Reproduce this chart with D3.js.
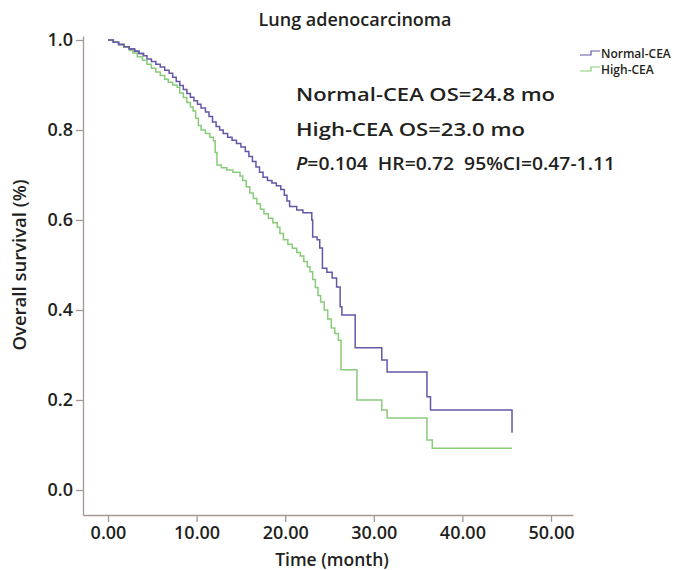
<!DOCTYPE html>
<html>
<head>
<meta charset="utf-8">
<script src="https://cdn.jsdelivr.net/npm/d3@7"></script>
<style>
  body { margin: 0; background: #fff; }
  text { font-family: "Open Sans", sans-serif; fill: #231f20; }
</style>
</head>
<body>
<svg id="chart" width="679" height="570"></svg>
<script>
// step points: [month, survival]
var normalCEA = [[0,1.0],[0.6,0.995],[1.2,0.99],[1.8,0.985],[2.4,0.98],[3.0,0.975],[3.5,0.97],[4.0,0.965],[4.4,0.958],[4.9,0.952],[5.4,0.946],[5.9,0.94],[6.4,0.933],[6.9,0.926],[7.3,0.917],[7.7,0.908],[8.1,0.899],[8.5,0.89],[8.9,0.881],[9.3,0.873],[9.7,0.865],[10.1,0.857],[10.5,0.849],[11.0,0.84],[11.4,0.83],[11.8,0.818],[12.2,0.808],[12.6,0.80],[13.0,0.792],[13.5,0.784],[14.0,0.777],[14.5,0.77],[15.0,0.762],[15.5,0.752],[15.9,0.741],[16.3,0.73],[16.7,0.718],[17.1,0.706],[17.5,0.695],[18.0,0.688],[18.5,0.682],[19.0,0.676],[19.5,0.668],[19.9,0.655],[20.2,0.642],[20.5,0.63],[21.3,0.622],[22.0,0.616],[23.0,0.60],[23.1,0.562],[23.6,0.556],[23.9,0.538],[24.2,0.493],[24.7,0.484],[25.3,0.471],[25.8,0.451],[26.2,0.407],[26.4,0.389],[27.9,0.316],[30.9,0.289],[31.5,0.262],[36.0,0.207],[36.4,0.178],[45.6,0.127]];
var highCEA = [[0,1.0],[0.6,0.995],[1.2,0.99],[1.8,0.984],[2.4,0.977],[2.8,0.971],[3.3,0.963],[3.9,0.955],[4.4,0.946],[4.9,0.937],[5.4,0.929],[5.9,0.921],[6.4,0.913],[6.8,0.906],[7.3,0.9],[7.8,0.895],[8.1,0.882],[8.5,0.872],[8.9,0.861],[9.3,0.851],[9.6,0.842],[9.9,0.826],[10.2,0.81],[10.5,0.80],[11.0,0.792],[11.5,0.784],[11.9,0.776],[12.1,0.75],[12.3,0.722],[12.8,0.716],[13.4,0.711],[14.1,0.706],[14.9,0.698],[15.2,0.688],[15.6,0.674],[16.0,0.66],[16.4,0.648],[16.8,0.636],[17.2,0.624],[17.6,0.614],[18.1,0.604],[18.6,0.594],[19.1,0.584],[19.4,0.57],[19.8,0.556],[20.3,0.546],[20.8,0.537],[21.3,0.528],[21.7,0.52],[22.1,0.508],[22.5,0.496],[22.8,0.485],[23.1,0.468],[23.4,0.45],[23.7,0.432],[24.0,0.418],[24.4,0.4],[24.8,0.38],[25.2,0.36],[25.6,0.348],[26.0,0.333],[26.3,0.267],[28.1,0.20],[30.9,0.178],[31.5,0.16],[36.0,0.111],[36.6,0.093],[45.6,0.093]];

var xTicks = [0, 10, 20, 30, 40, 50];
var yTicks = [0, 0.2, 0.4, 0.6, 0.8, 1.0];
var seriesNames = ["Normal-CEA", "High-CEA"];
var seriesColors = ["#6556a8", "#88cc7a"];
var statLines = ["Normal-CEA OS=24.8 mo", "High-CEA OS=23.0 mo"];

var svg = d3.select("#chart");

// scales: 0 month at x=108, 50 at x=551; survival 0 at y=490, 1 at y=40
var xScale = d3.scaleLinear().domain([-25 / 8.86, 465 / 8.86]).range([83, 573]);
var yScale = d3.scaleLinear().domain([-25 / 450, 1 + 4 / 450]).range([515, 36]);

var axisColor = "#a39893";

var xAxis = d3.axisBottom(xScale).tickValues(xTicks).tickSize(7).tickSizeOuter(0).tickPadding(4)
    .tickFormat(d3.format(".2f"));
var yAxis = d3.axisLeft(yScale).tickValues(yTicks).tickSize(7).tickSizeOuter(0).tickPadding(3)
    .tickFormat(d3.format(".1f"));

var gx = svg.append("g").attr("transform", "translate(0,515)").call(xAxis);
var gy = svg.append("g").attr("transform", "translate(83,0)").call(yAxis);
[gx, gy].forEach(function(g){
  g.select(".domain").attr("stroke", axisColor).attr("stroke-width", 1.3);
  g.selectAll(".tick line").attr("stroke", axisColor).attr("stroke-width", 1.3);
  g.selectAll(".tick text").style("font-family", "'Open Sans', sans-serif")
    .style("font-size", "18px").style("font-weight", 600).attr("fill", "#231f20");
});

// KM step curves
var line = d3.line().curve(d3.curveStepAfter)
    .x(function(d){ return xScale(d[0]); })
    .y(function(d){ return yScale(d[1]); });
[normalCEA, highCEA].forEach(function(data, i){
  svg.append("path").attr("d", line(data)).attr("fill", "none")
    .attr("stroke", seriesColors[i]).attr("stroke-width", 1.5);
});
// redraw normal on top at the start where they overlap
svg.append("path").attr("d", line(normalCEA.slice(0, 8))).attr("fill", "none")
  .attr("stroke", seriesColors[0]).attr("stroke-width", 1.5);

// title
svg.append("text").attr("x", 355).attr("y", 26).attr("text-anchor", "middle")
  .style("font-size", "18px").style("font-weight", 600).text("Lung adenocarcinoma");

// stats
var statWidths = [259, 229];
statLines.forEach(function(s, i){
  svg.append("text").attr("x", 296).attr("y", 101 + i * 35)
    .attr("textLength", statWidths[i]).attr("lengthAdjust", "spacingAndGlyphs")
    .style("font-size", "18px").style("font-weight", 600).text(s);
});
var pt = svg.append("text").attr("x", 296).attr("y", 170)
  .attr("textLength", 319).attr("lengthAdjust", "spacingAndGlyphs")
  .style("font-size", "18.5px").style("font-weight", 600).attr("xml:space", "preserve");
pt.append("tspan").style("font-style", "italic").text("P");
pt.append("tspan").text("=0.104  HR=0.72  95%CI=0.47-1.11");

// legend
seriesNames.forEach(function(name, i){
  var y0 = 55 + i * 16;
  svg.append("path")
    .attr("d", "M580," + y0 + "H591V" + (y0 - 4) + "H600")
    .attr("fill", "none").attr("stroke", seriesColors[i]).attr("stroke-width", 1.2);
  svg.append("text").attr("x", 601).attr("y", y0 + 3)
    .style("font-size", "12px").style("font-weight", 600).text(name);
});

// axis titles
svg.append("text").attr("x", 332).attr("y", 566).attr("text-anchor", "middle")
  .style("font-size", "17.5px").style("font-weight", 600).text("Time (month)");
svg.append("text").attr("transform", "translate(26,265) rotate(-90)").attr("text-anchor", "middle")
  .style("font-size", "18.5px").style("font-weight", 600).text("Overall survival (%)");
</script>
</body>
</html>
